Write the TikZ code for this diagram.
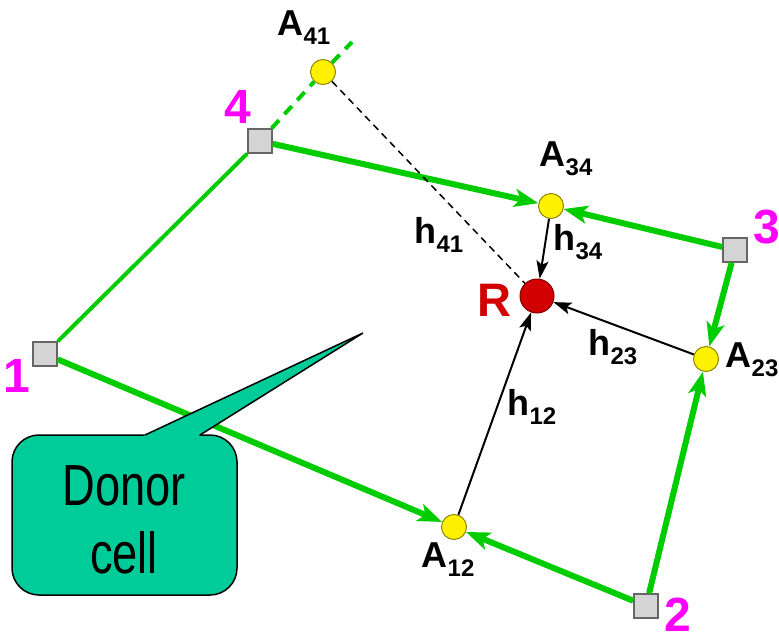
\documentclass[tikz,border=0pt]{standalone}
\usepackage{fontspec}
\setmainfont{Liberation Sans}
\newfontfamily\narrowfont[FakeStretch=0.78]{Liberation Sans}
\usetikzlibrary{arrows.meta}
\definecolor{edgegreen}{RGB}{0,204,0}
\definecolor{bubblegreen}{RGB}{0,204,153}
\definecolor{cornergray}{RGB}{212,212,212}
\definecolor{numpink}{RGB}{255,0,255}
\definecolor{recvred}{RGB}{210,0,0}
\newcommand{\sublab}[2]{#1\raisebox{-9pt}{\fontsize{24}{24}\selectfont #2}}

\begin{document}
\begin{tikzpicture}[x=1pt,y=-1pt,
    corner/.style={rectangle,draw=gray!80!black,fill=cornergray,line width=1.5pt,
                   minimum size=24pt,inner sep=0pt},
    face/.style={circle,draw=olive,fill=yellow,line width=1pt,minimum size=25pt,inner sep=0pt},
    recv/.style={circle,draw=recvred!60!black,fill=recvred,line width=1pt,minimum size=34pt,inner sep=0pt},
    side/.style={draw=edgegreen,line width=4pt},
    flux/.style={draw=edgegreen,line width=6pt,-{Stealth[length=24pt,width=18pt,inset=6pt]}},
    ghost/.style={draw=edgegreen,line width=4pt,dash pattern=on 11pt off 8pt},
    link/.style={draw=black,line width=2pt,-{Stealth[length=18pt,width=12pt,inset=4pt]}},
    hint/.style={draw=black,line width=1.5pt,dash pattern=on 7pt off 5pt},
    lab/.style={font=\fontsize{36}{36}\selectfont\bfseries,inner sep=0pt},
    num/.style={font=\fontsize{48}{48}\selectfont\bfseries,text=numpink,inner sep=0pt}]
 \useasboundingbox (0,0) rectangle (779,643);
 % cell corners and face points
 \node[corner] (v1) at (45,354) {};
 \node[corner] (v2) at (646,606) {};
 \node[corner] (v3) at (735,250) {};
 \node[corner] (v4) at (260,141) {};
 \node[face] (a12) at (454,527) {};
 \node[face] (a23) at (706,359) {};
 \node[face] (a34) at (551,206) {};
 \node[face] (a41) at (323,72) {};
 \node[recv] (r) at (537,296) {};
 \coordinate (e41) at (352,42);
 % cell edges
 \draw[side] (v1) -- (v4);
 \draw[ghost] (v4) -- (a41);
 \draw[ghost] (a41) -- (e41);
 \draw[flux] (v1) -- (a12);
 \draw[flux] (v2) -- (a12);
 \draw[flux] (v2) -- (a23);
 \draw[flux] (v3) -- (a23);
 \draw[flux] (v3) -- (a34);
 \draw[flux] (v4) -- (a34);
 % distances to R
 \draw[hint] (a41) -- (r);
 \draw[link] (a34) -- (r);
 \draw[link] (a23) -- (r);
 \draw[link] (a12) -- (r);
 % labels
 \node[num] (n1) at (17,376) {1};
 \node[num] (n2) at (678,615) {2};
 \node[num] (n3) at (767,227) {3};
 \node[num] (n4) at (238,107) {4};
 \node[font=\fontsize{47}{47}\selectfont\bfseries,text=recvred,inner sep=0pt] (rl) at (494,300) {R};
 \node[lab] (la12) at (448,560) {\sublab{A}{12}};
 \node[lab] (la23) at (752,360) {\sublab{A}{23}};
 \node[lab] (la34) at (566,159) {\sublab{A}{34}};
 \node[lab] (la41) at (304,28) {\sublab{A}{41}};
 \node[lab] (lh12) at (532,407) {\sublab{h}{12}};
 \node[lab] (lh23) at (613,347) {\sublab{h}{23}};
 \node[lab] (lh34) at (578,242) {\sublab{h}{34}};
 \node[lab] (lh41) at (439,235) {\sublab{h}{41}};
 % donor cell callout
 \coordinate (tip) at (363,333);
 \draw[fill=bubblegreen,line width=1.5pt,rounded corners=27pt] (12,435) rectangle (237,595);
 \fill[bubblegreen] (124,445) -- (tip) -- (184,445) -- cycle;
 \draw[line width=1.5pt,line join=miter] (145,435) -- (tip) -- (200,435);
 \node[font=\narrowfont\fontsize{58}{68}\selectfont,align=center,inner sep=0pt] (donor) at (124,520) {Donor\\cell};
\end{tikzpicture}
\end{document}
